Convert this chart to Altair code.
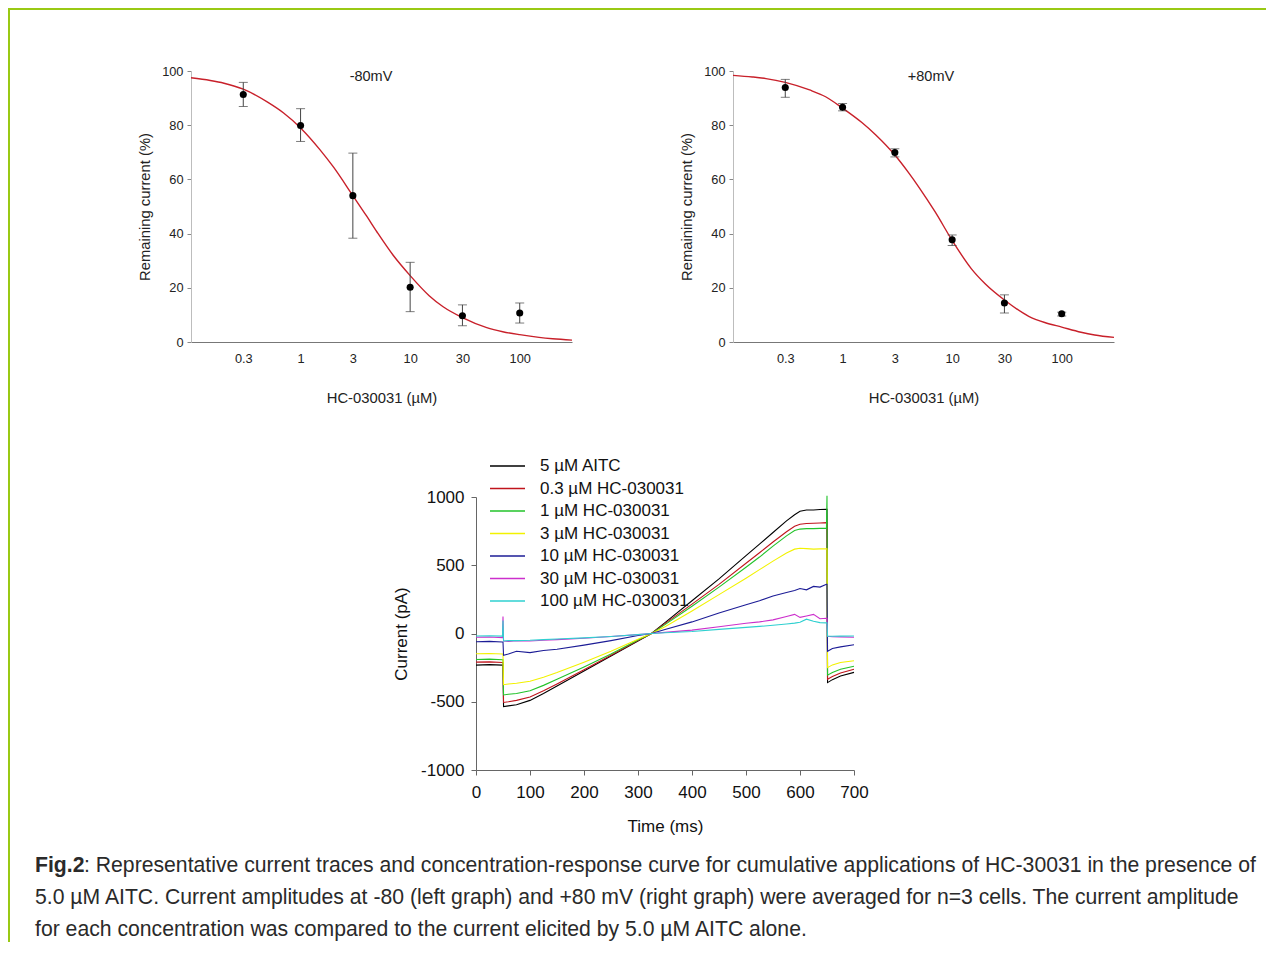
import altair as alt
import pandas as pd

FONT = "Liberation Sans, Arial, Helvetica, sans-serif"

# ---------------- concentration-response data (top panels) ----------------
conc = [0.3, 1, 3, 10, 30, 100]
neg_mean = [91.3, 79.9, 54.0, 20.2, 9.7, 10.7]
neg_lo = [86.9, 74.0, 38.3, 11.2, 6.0, 7.0]
neg_hi = [95.8, 86.1, 69.7, 29.4, 13.7, 14.4]
pos_mean = [93.9, 86.6, 69.9, 37.7, 14.4, 10.4]
pos_lo = [90.3, 85.3, 68.3, 35.6, 10.7, 9.6]
pos_hi = [96.9, 88.0, 71.3, 39.5, 17.4, 11.0]

fit_conc = [0.1, 0.15, 0.2, 0.3, 0.5, 0.7, 1, 1.5, 2, 3, 4, 5, 7, 10, 15, 20,
            30, 50, 70, 100, 150, 200, 300]
neg_fit = [97.5, 96.5, 95.5, 93.3, 88.5, 84.5, 79.0, 71.0, 64.5, 54.0, 46.5,
           40.5, 32.0, 24.5, 17.0, 13.0, 9.0, 5.3, 3.8, 2.7, 1.7, 1.2, 0.7]
pos_fit = [98.4, 97.8, 97.2, 95.8, 93.0, 90.5, 86.3, 81.0, 76.5, 69.0, 62.5,
           57.0, 48.0, 37.5, 27.0, 21.5, 15.5, 9.5, 7.2, 5.5, 3.6, 2.6, 1.7]

conc_ticks = [0.3, 1, 3, 10, 30, 100]
pct_ticks = [0, 20, 40, 60, 80, 100]

# ---------------- current traces (bottom panel) ----------------
time_ms = [0, 25, 49, 50, 51, 60, 75, 100, 125, 150, 200, 250, 300, 325, 350,
           400, 450, 500, 525, 550, 575, 590, 600, 612, 625, 637, 649, 650,
           651, 660, 675, 700]
trace_names = ["5 µM AITC", "0.3 µM HC-030031", "1 µM HC-030031",
               "3 µM HC-030031", "10 µM HC-030031", "30 µM HC-030031",
               "100 µM HC-030031"]
trace_colors = ["#000000", "#c0141c", "#22c32a", "#f2f200", "#1c1c96",
                "#cc2fcc", "#2fd0d0"]
aitc = [-232, -228, -232, -232, -535, -530, -522, -490, -440, -385, -275, -165,
        -55, 0, 80, 240, 400, 570, 655, 740, 825, 870, 895, 905, 905, 908,
        910, 910, -360, -338, -312, -285]
hc_0p3 = [-210, -208, -212, -212, -505, -500, -490, -465, -420, -370, -265,
          -160, -52, 0, 72, 215, 360, 515, 592, 670, 745, 785, 800, 806, 808,
          810, 812, 812, -335, -315, -290, -262]
hc_1 = [-190, -188, -192, -192, -450, -445, -440, -420, -380, -335, -245, -150,
        -48, 0, 65, 200, 340, 485, 560, 640, 715, 755, 765, 768, 768, 770, 770,
        1010, -305, -285, -262, -240]
hc_3 = [-148, -146, -150, -150, -375, -370, -365, -350, -320, -285, -210, -130,
        -42, 0, 50, 165, 285, 405, 468, 530, 590, 618, 625, 622, 618, 620, 620,
        620, -250, -230, -212, -200]
hc_10 = [-60, -58, -62, -62, -160, -150, -130, -140, -125, -115, -85, -52, -15,
         0, 30, 85, 150, 210, 240, 275, 300, 315, 330, 320, 345, 340, 360, 360,
         -130, -110, -98, -82]
hc_30 = [-28, -26, -30, 125, -55, -58, -52, -55, -50, -45, -35, -22, -8, 0, 8,
         25, 50, 75, 85, 100, 125, 140, 118, 128, 140, 108, 112, 112, -20, -24,
         -25, -28]
hc_100 = [-18, -17, -19, 95, -55, -52, -52, -50, -45, -40, -32, -22, -8, 0, 5,
          15, 30, 45, 52, 60, 70, 76, 82, 105, 90, 80, 78, 78, -20, -20, -19,
          -18]
trace_values = [aitc, hc_0p3, hc_1, hc_3, hc_10, hc_30, hc_100]
time_ticks = [0, 100, 200, 300, 400, 500, 600, 700]
current_ticks = [-1000, -500, 0, 500, 1000]

caption_bold = "Fig.2"
caption_lines = [
    ": Representative current traces and concentration-response curve for "
    "cumulative applications of HC-30031 in the presence of",
    "5.0 µM AITC. Current amplitudes at -80 (left graph) and +80 mV (right "
    "graph) were averaged for n=3 cells. The current amplitude",
    "for each concentration was compared to the current elicited by 5.0 µM "
    "AITC alone.",
]

W, H = 1258, 934


def dose_layers(mean, lo, hi, fit, label, x0, x1, label_x):
    xs = alt.Scale(type="log", domain=[0.1, 300], range=[x0, x1], nice=False)
    ys = alt.Scale(domain=[0, 100], range=[334, 63], nice=False, zero=False)
    pts = pd.DataFrame({"c": conc, "m": mean, "lo": lo, "hi": hi})
    fitdf = pd.DataFrame({"c": fit_conc, "v": fit})
    x_axis = alt.Axis(orient="bottom", offset=334 - H, values=conc_ticks,
                      format="~g", ticks=False, labelPadding=10, grid=False,
                      labelFlush=False, domainColor="#777777", labelFont=FONT,
                      labelFontSize=12.8, labelColor="#222222",
                      title="HC-030031 (µM)", titleFont=FONT,
                      titleFontSize=14.8, titleFontWeight="normal",
                      titleColor="#222222", titlePadding=26)
    y_axis = alt.Axis(orient="left", offset=-x0, values=pct_ticks, tickSize=4,
                      labelPadding=4, grid=False, labelFlush=False,
                      domainColor="#bdbdbd", tickColor="#888888",
                      labelFont=FONT, labelFontSize=12.8, labelColor="#222222",
                      title="Remaining current (%)", titleFont=FONT,
                      titleFontSize=14.8, titleFontWeight="normal",
                      titleColor="#222222", titlePadding=9)
    curve = alt.Chart(fitdf).mark_line(
        color="#c8202a", strokeWidth=1.4, interpolate="monotone").encode(
        x=alt.X("c:Q", scale=xs, axis=x_axis),
        y=alt.Y("v:Q", scale=ys, axis=y_axis))
    bars = alt.Chart(pts).mark_rule(color="#444444", strokeWidth=1).encode(
        x=alt.X("c:Q", scale=xs, axis=None),
        y=alt.Y("lo:Q", scale=ys, axis=None), y2="hi:Q")
    cap_lo = alt.Chart(pts).mark_tick(
        orient="horizontal", size=9, thickness=1, color="#444444").encode(
        x=alt.X("c:Q", scale=xs, axis=None),
        y=alt.Y("lo:Q", scale=ys, axis=None))
    cap_hi = alt.Chart(pts).mark_tick(
        orient="horizontal", size=9, thickness=1, color="#444444").encode(
        x=alt.X("c:Q", scale=xs, axis=None),
        y=alt.Y("hi:Q", scale=ys, axis=None))
    dots = alt.Chart(pts).mark_point(
        filled=True, size=50, color="#000000", opacity=1).encode(
        x=alt.X("c:Q", scale=xs, axis=None),
        y=alt.Y("m:Q", scale=ys, axis=None))
    txt = alt.Chart(pd.DataFrame({"t": [label]})).mark_text(
        font=FONT, fontSize=14.5, color="#222222", align="center",
        baseline="middle").encode(
        x=alt.value(label_x), y=alt.value(69), text="t:N")
    return [curve, bars, cap_lo, cap_hi, dots, txt]


left = dose_layers(neg_mean, neg_lo, neg_hi, neg_fit, "-80mV", 183, 564, 363)
right = dose_layers(pos_mean, pos_lo, pos_hi, pos_fit, "+80mV", 725, 1106, 923)

rows = []
for name, vals in zip(trace_names, trace_values):
    for t, v in zip(time_ms, vals):
        rows.append({"time": t, "current": v, "series": name})
trace_df = pd.DataFrame(rows)

trace_color = alt.Color("series:N", scale=alt.Scale(domain=trace_names,
                                                    range=trace_colors),
                        legend=None)
tx = alt.Scale(domain=[0, 700], range=[468, 846], nice=False, zero=False)
ty = alt.Scale(domain=[-1000, 1000], range=[762, 489], nice=False, zero=False)
traces = alt.Chart(trace_df).mark_line(strokeWidth=1.1).encode(
    x=alt.X("time:Q", scale=tx, axis=alt.Axis(
        orient="bottom", offset=762 - H, values=time_ticks, tickSize=5,
        labelPadding=9, grid=False, labelFlush=False,
        labelExpr="'' + datum.value",
        domainColor="#666666", tickColor="#666666",
        labelFont=FONT, labelFontSize=17, labelColor="#111111",
        title="Time (ms)", titleFont=FONT, titleFontSize=17,
        titleFontWeight="normal", titleColor="#111111", titlePadding=18)),
    y=alt.Y("current:Q", scale=ty, axis=alt.Axis(
        orient="left", offset=-468, values=current_ticks, tickSize=5,
        labelPadding=7, grid=False, labelFlush=False,
        labelExpr="'' + datum.value",
        domainColor="#666666", tickColor="#666666",
        labelFont=FONT, labelFontSize=17, labelColor="#111111",
        title="Current (pA)", titleFont=FONT, titleFontSize=17,
        titleFontWeight="normal", titleColor="#111111", titlePadding=10)),
    color=trace_color,
)

# legend of the traces (inside the plot, top left)
leg_df = pd.DataFrame({"series": trace_names})
leg_y = alt.Y("series:N", scale=alt.Scale(type="point", domain=trace_names,
                                          range=[458, 593], padding=0),
              axis=None)
leg_rules = alt.Chart(leg_df).mark_rule(strokeWidth=1.3).encode(
    x=alt.value(482), x2=alt.value(517), y=leg_y, color=trace_color)
leg_text = alt.Chart(leg_df).mark_text(
    align="left", baseline="middle", font=FONT, fontSize=17,
    color="#111111").encode(x=alt.value(532), y=leg_y, text="series:N")

# caption and frame
one = pd.DataFrame({"k": [0]})
frame_left = alt.Chart(one).mark_rect(color="#99c914").encode(
    x=alt.value(0), x2=alt.value(2), y=alt.value(0), y2=alt.value(H))
frame_top = alt.Chart(one).mark_rect(color="#99c914").encode(
    x=alt.value(0), x2=alt.value(W), y=alt.value(0), y2=alt.value(2))

CAP_SIZE = 21.2
cap_bold = alt.Chart(pd.DataFrame({"t": [caption_bold]})).mark_text(
    font=FONT, fontSize=CAP_SIZE, fontWeight="bold", color="#2a2a2a",
    align="left", baseline="middle").encode(
    x=alt.value(27), y=alt.value(858), text="t:N")
cap_parts = [cap_bold]
for i, line in enumerate(caption_lines):
    cap_parts.append(
        alt.Chart(pd.DataFrame({"t": [line]})).mark_text(
            font=FONT, fontSize=CAP_SIZE, color="#2a2a2a", align="left",
            baseline="middle").encode(
            x=alt.value(76 if i == 0 else 27), y=alt.value(858 + 32 * i),
            text="t:N"))

chart = alt.layer(
    *left, *right, traces, leg_rules, leg_text, frame_left, frame_top,
    *cap_parts
).resolve_scale(
    x="independent", y="independent"
).properties(
    width=W, height=H, padding=0,
    autosize=alt.AutoSizeParams(type="none"),
).configure_view(stroke="transparent")

chart.save("out.html", embed_options={"renderer": "svg", "actions": False})
